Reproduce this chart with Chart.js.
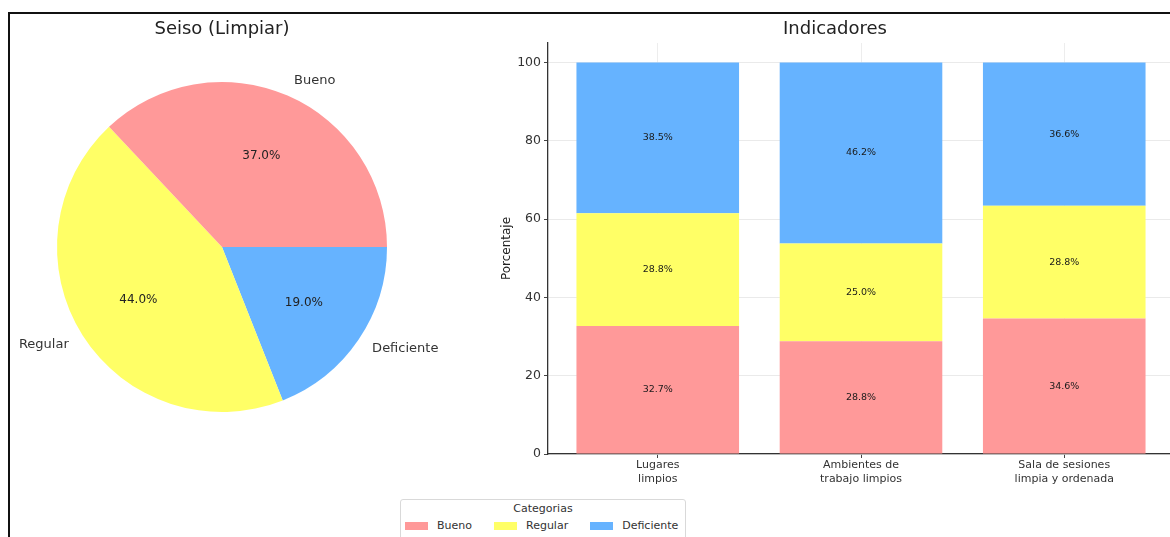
<!DOCTYPE html>
<html>
<head>
<meta charset="utf-8">
<title>Seiso (Limpiar) - Indicadores</title>
<script src="https://cdn.jsdelivr.net/npm/chart.js@4.4.1/dist/chart.umd.min.js"></script>
<style>
  html, body { margin: 0; padding: 0; background: #fff; overflow: hidden; }
  body { width: 1170px; height: 537px; position: relative; font-family: "DejaVu Sans", sans-serif; }
  #frame { position: absolute; left: 8px; top: 12px; width: 1200px; height: 600px; border-top: 2px solid #111; border-left: 2px solid #111; }
  #pie-wrap { position: absolute; left: 0; top: 0; width: 480px; height: 537px; }
  #bar-wrap { position: absolute; left: 480px; top: 0; width: 700px; height: 537px; }
  #legend { position: absolute; left: 400px; top: 499px; width: 286px; height: 60px; box-sizing: border-box;
            border: 1px solid #d9d9d9; border-radius: 3px; background: #fff; color: #333; font-size: 11px; }
  #legend .title { text-align: center; margin-top: 2px; line-height: 14px; }
  #legend .items { display: flex; padding-left: 4px; margin-top: 3px; line-height: 13px; }
  #legend .item { display: flex; align-items: center; margin-right: 22px; }
  #legend .swatch { width: 23px; height: 8px; margin-right: 9px; }
</style>
</head>
<body>
<div id="frame"></div>
<div id="pie-wrap"><canvas id="pie-chart" width="480" height="537"></canvas></div>
<div id="bar-wrap"><canvas id="bar-chart" width="700" height="537"></canvas></div>
<div id="legend"></div>

<script>
// Categories shared by both charts
const seriesNames = ["Bueno", "Regular", "Deficiente"];
const seriesColors = ["#ff9999", "#ffff66", "#66b3ff"];

// Pie: overall Seiso result (%)
const pieValues = [37.0, 44.0, 19.0];

// Stacked bars: one value per indicator for each category (%)
const indicatorLabels = [
    ["Lugares", "limpios"],
    ["Ambientes de", "trabajo limpios"],
    ["Sala de sesiones", "limpia y ordenada"]
];
const buenoValues = [32.7, 28.8, 34.6];
const regularValues = [28.8, 25.0, 28.8];
const deficienteValues = [38.5, 46.2, 36.6];
const yTicks = [0, 20, 40, 60, 80, 100];

const FONT = "DejaVu Sans";

// Outer names and inner percentages for the pie slices
const pieLabels = {
    id: "pieLabels",
    afterDatasetsDraw(chart) {
        const ctx = chart.ctx;
        const meta = chart.getDatasetMeta(0);
        const values = chart.data.datasets[0].data;
        const names = chart.data.labels;
        ctx.save();
        ctx.textBaseline = "middle";
        meta.data.forEach((arc, i) => {
            const p = arc.getProps(["x", "y", "startAngle", "endAngle", "outerRadius"], true);
            const mid = (p.startAngle + p.endAngle) / 2;
            const cos = Math.cos(mid), sin = Math.sin(mid);

            ctx.font = `13px "${FONT}"`;
            ctx.fillStyle = "#333";
            ctx.textAlign = cos >= 0 ? "left" : "right";
            ctx.fillText(names[i], p.x + cos * p.outerRadius * 1.1, p.y + sin * p.outerRadius * 1.1);

            ctx.font = `12px "${FONT}"`;
            ctx.fillStyle = "#222";
            ctx.textAlign = "center";
            ctx.fillText(values[i].toFixed(1) + "%", p.x + cos * p.outerRadius * 0.6, p.y + sin * p.outerRadius * 0.6);
        });
        ctx.restore();
    }
};

// Percentage text in the middle of each stacked segment
const barValueLabels = {
    id: "barValueLabels",
    afterDatasetsDraw(chart) {
        const ctx = chart.ctx;
        ctx.save();
        ctx.font = `9.5px "${FONT}"`;
        ctx.fillStyle = "#1a1a1a";
        ctx.textAlign = "center";
        ctx.textBaseline = "middle";
        chart.data.datasets.forEach((ds, k) => {
            chart.getDatasetMeta(k).data.forEach((bar, i) => {
                ctx.fillText(ds.data[i].y.toFixed(1) + "%", bar.x, (bar.y + bar.base) / 2);
            });
        });
        ctx.restore();
    }
};

// Pie is drawn counter-clockwise from 3 o'clock, so feed the slices reversed
const rev = arr => arr.slice().reverse();

new Chart(document.getElementById("pie-chart"), {
    type: "pie",
    data: {
        labels: rev(seriesNames),
        datasets: [{
            data: rev(pieValues),
            backgroundColor: rev(seriesColors),
            borderWidth: 0
        }]
    },
    options: {
        responsive: false,
        animation: false,
        events: [],
        rotation: 90,
        layout: { padding: { left: 57, right: 93, top: 0, bottom: 125 } },
        plugins: {
            legend: { display: false },
            tooltip: { enabled: false },
            title: {
                display: true,
                text: "Seiso (Limpiar)",
                color: "#222",
                font: { family: FONT, size: 18, weight: "normal" },
                padding: { top: 19, bottom: 41.4 }
            }
        }
    },
    plugins: [pieLabels]
});

const barSeries = [buenoValues, regularValues, deficienteValues];

new Chart(document.getElementById("bar-chart"), {
    type: "bar",
    data: {
        datasets: seriesNames.map((name, k) => ({
            label: name,
            data: barSeries[k].map((v, i) => ({ x: i, y: v })),
            backgroundColor: seriesColors[k],
            borderWidth: 0,
            barPercentage: 0.8,
            categoryPercentage: 1
        }))
    },
    options: {
        responsive: false,
        animation: false,
        events: [],
        layout: { padding: { left: 16, right: 6, top: 0, bottom: 0 } },
        plugins: {
            legend: { display: false },
            tooltip: { enabled: false },
            title: {
                display: true,
                text: "Indicadores",
                color: "#222",
                font: { family: FONT, size: 18, weight: "normal" },
                padding: { top: 19, bottom: 2.4 }
            }
        },
        scales: {
            x: {
                type: "linear",
                stacked: true,
                offset: false,
                min: -0.54,
                max: 2.54,
                z: 1,
                afterFit: s => { s.height = 83; },
                afterBuildTicks: s => {
                    s.ticks = indicatorLabels.map((_, i) => ({ value: i }));
                },
                grid: { offset: false, color: "rgba(0,0,0,0.09)", lineWidth: 0.8, tickLength: 4, tickColor: "#444", tickWidth: 1 },
                border: { color: "#333", width: 1.3 },
                ticks: {
                    maxRotation: 0,
                    autoSkip: false,
                    padding: 1,
                    color: "#333",
                    font: { family: FONT, size: 11 },
                    callback: v => indicatorLabels[v] || ""
                }
            },
            y: {
                stacked: true,
                min: 0,
                max: 105,
                afterFit: s => { s.width = 52; },
                afterBuildTicks: s => {
                    s.ticks = yTicks.map(v => ({ value: v }));
                },
                grid: { color: "#e4e4e4", lineWidth: 0.8, tickLength: 4, tickColor: "#444", tickWidth: 1 },
                border: { color: "#333", width: 1.3 },
                ticks: {
                    padding: 3,
                    color: "#333",
                    font: { family: FONT, size: 12.5 }
                },
                title: {
                    display: true,
                    text: "Porcentaje",
                    color: "#222",
                    font: { family: FONT, size: 12 },
                    padding: { top: 4, bottom: 4 }
                }
            }
        }
    },
    plugins: [barValueLabels]
});

// Legend shared by both charts
const legend = document.getElementById("legend");
legend.innerHTML = `<div class="title">Categorias</div><div class="items">` +
    seriesNames.map((name, k) =>
        `<div class="item"><span class="swatch" style="background:${seriesColors[k]}"></span>${name}</div>`
    ).join("") + `</div>`;
</script>
</body>
</html>
